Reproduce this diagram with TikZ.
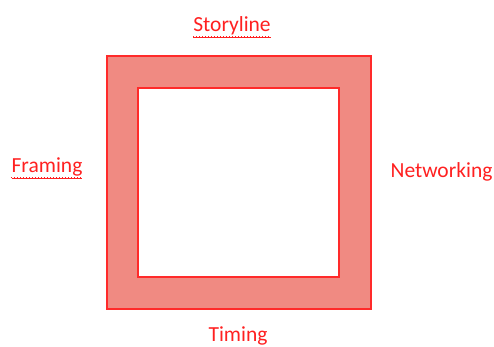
\documentclass[tikz,border=0pt]{standalone}
\usepackage{fontspec}
\setmainfont{Carlito}
\usepackage{tikz}
\usetikzlibrary{positioning}

\definecolor{framefill}{HTML}{F08A82}
\definecolor{framered}{HTML}{FF2A2A}
\definecolor{labelred}{HTML}{FF2020}

\begin{document}
\begin{tikzpicture}[x=1pt, y=-1pt,
    label/.style={text=labelred, inner sep=0pt, anchor=base, font=\fontsize{21.5}{24}\selectfont},
    spell/.style={labelred, line width=1pt, dotted}]
        \useasboundingbox (0,0) rectangle (494,347);
        % the frame
        \path[fill=framefill, draw=framered, line width=1.5pt, even odd rule]
            (107,56) rectangle (371,309) (138,88) rectangle (339,277);
        % labels round it
        \node[label] (story) at (232,32) {\underline{Storyline}};
        \node[label] (fram) at (47,173) {\underline{Framing}};
        \node[label] (net) at (441.5,178) {Networking};
        \node[label] (tim) at (238,341) {Timing};
        \draw[spell] ([yshift=-4.5pt]story.base west) -- ([yshift=-4.5pt]story.base east);
        \draw[spell] ([yshift=-4.5pt]fram.base west) -- ([yshift=-4.5pt]fram.base east);
    \end{tikzpicture}
\end{document}
